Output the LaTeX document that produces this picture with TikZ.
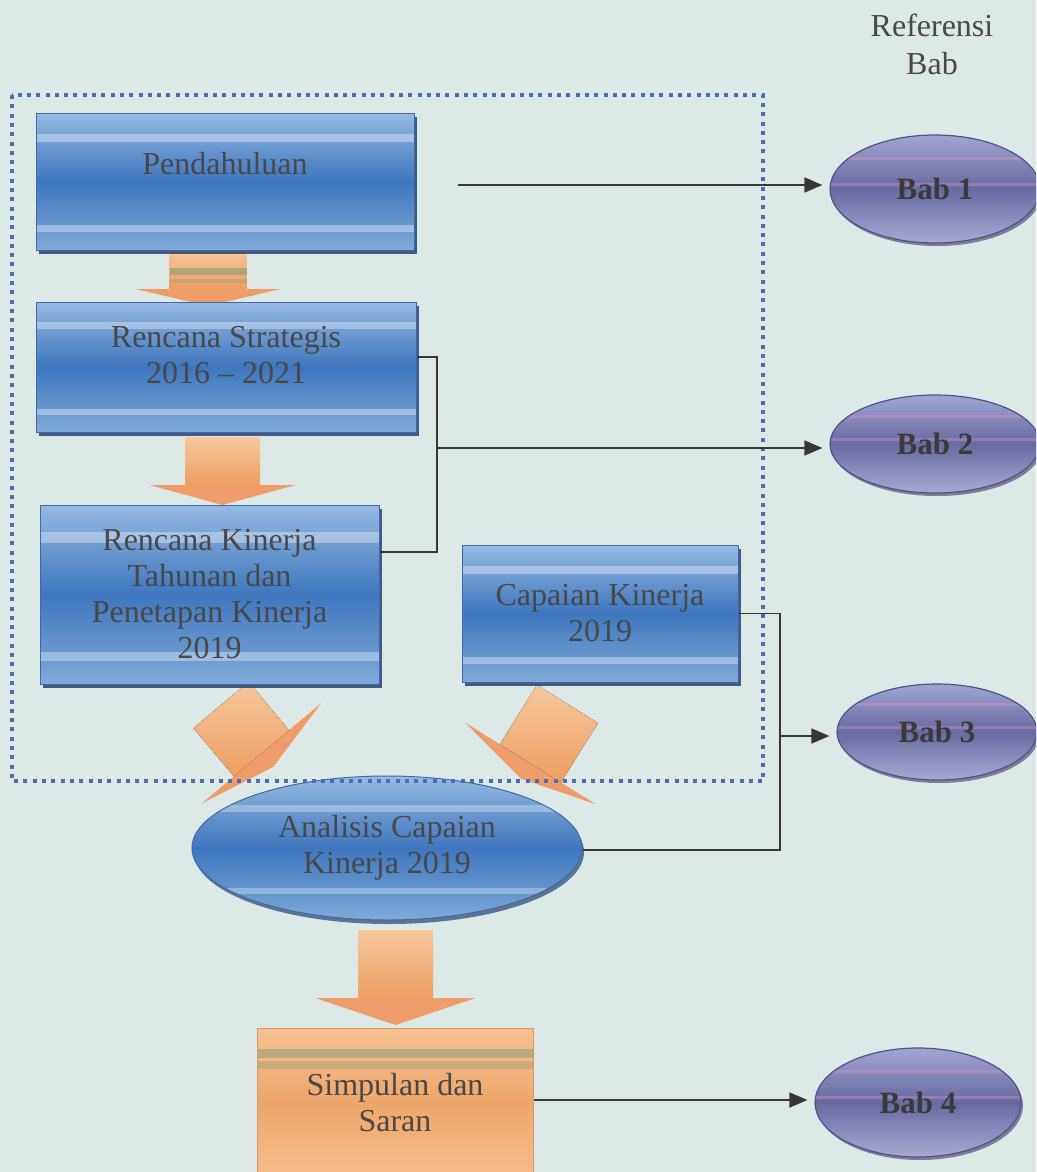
\documentclass[tikz,border=0pt]{standalone}
\usepackage{fontspec}
\setmainfont{Liberation Serif}
\usetikzlibrary{arrows.meta,shapes.geometric,shadows,calc}

\definecolor{bg}{RGB}{221,233,231}
\definecolor{dotblue}{RGB}{78,108,180}
\definecolor{boxtop}{RGB}{150,186,226}
\definecolor{boxmid}{RGB}{62,118,190}
\definecolor{boxbot}{RGB}{128,170,216}
\definecolor{boxedge}{RGB}{62,106,170}
\definecolor{boxshadow}{RGB}{40,66,112}
\definecolor{txtc}{RGB}{72,72,72}
\definecolor{babtop}{RGB}{162,164,210}
\definecolor{babmid}{RGB}{104,106,160}
\definecolor{babbot}{RGB}{168,170,212}
\definecolor{babedge}{RGB}{80,80,140}
\definecolor{babtxt}{RGB}{58,58,58}
\definecolor{ortop}{RGB}{246,200,156}
\definecolor{ormid}{RGB}{238,158,98}
\definecolor{orhead}{RGB}{238,156,106}
\definecolor{orbox}{RGB}{238,166,106}
\definecolor{orboxtop}{RGB}{244,194,146}
\definecolor{orboxbot}{RGB}{246,190,138}
\definecolor{oredge}{RGB}{222,150,92}
\definecolor{greenstripe}{RGB}{150,160,125}
\definecolor{connc}{RGB}{55,55,55}

\newcommand\pstripe[3]{\fill[#3] ($(path picture bounding box.north west)!#1!(path picture bounding box.south west)$) rectangle ($(path picture bounding box.north east)!#2!(path picture bounding box.south east)$);}

% x y rotation shaft-half-width shaft-length head-half-width head-depth
\newcommand\orangearrow[7]{%
  \begin{scope}[shift={(#1,#2)},rotate=#3]
    \fill[orhead] (-#6,#5) -- (#6,#5) -- (0,#5+#7) -- cycle;
    \fill[top color=ortop,bottom color=ormid] (-#4,0) rectangle (#4,#5);
  \end{scope}}

\tikzset{
  txtfont/.style={font=\fontsize{32}{36}\selectfont},
  bluebox/.style={rectangle, draw=boxedge, line width=1pt,
    top color=boxtop, bottom color=boxbot, middle color=boxmid,
    drop shadow={shadow xshift=3pt, shadow yshift=-4pt, fill=boxshadow, opacity=0.85},
    text=txtc, txtfont, align=center, inner sep=0pt,
    path picture={\pstripe{0.15}{0.21}{white,opacity=0.35}\pstripe{0.82}{0.87}{white,opacity=0.35}}},
  blueell/.style={ellipse, draw=boxedge, line width=1pt,
    top color=boxtop, bottom color=boxbot, middle color=boxmid,
    drop shadow={shadow xshift=2pt, shadow yshift=-4pt, fill=boxshadow, opacity=0.7},
    text=txtc, txtfont, align=center, inner sep=0pt,
    path picture={\pstripe{0.2}{0.25}{white,opacity=0.3}\pstripe{0.78}{0.82}{white,opacity=0.3}}},
  orbox/.style={rectangle, draw=oredge, line width=1pt,
    top color=orboxtop, bottom color=orboxbot, middle color=orbox,
    text=txtc, txtfont, align=center, inner sep=0pt,
    path picture={\pstripe{0.14}{0.2}{greenstripe,opacity=0.6}\pstripe{0.22}{0.27}{greenstripe,opacity=0.45}}},
  babell/.style={ellipse, draw=babedge, line width=1.2pt,
    top color=babtop, bottom color=babbot, middle color=babmid,
    drop shadow={shadow xshift=2pt, shadow yshift=-3pt, fill=babedge!70!black, opacity=0.6},
    text=babtxt, font=\bfseries\fontsize{31}{34}\selectfont, inner sep=0pt,
    path picture={\pstripe{0.2}{0.23}{magenta!40!white,opacity=0.3}\pstripe{0.44}{0.47}{magenta!40!white,opacity=0.3}}},
  conn/.style={draw=connc, line width=1.8pt},
  arr/.style={-{Triangle[length=18pt,width=15pt]}, shorten >=7pt},
  dotborder/.style={draw=dotblue, line width=4pt, dash pattern=on 4pt off 5.3pt}
}

\begin{document}
\begin{tikzpicture}[x=1pt,y=-1pt]
\useasboundingbox (0,0) rectangle (1036,1172);
\clip (0,0) rectangle (1036,1172);
\fill[bg] (0,0) rectangle (1036,1172);

% orange arrows
\orangearrow{208}{249}{0}{38.5}{40}{72.5}{17}
\fill[greenstripe,opacity=0.7] (169.5,268) rectangle (246.5,275);
\fill[greenstripe,opacity=0.4] (169.5,279) rectangle (246.5,283);
\orangearrow{222.5}{437}{0}{37.5}{48}{73}{20}
\orangearrow{395.5}{930}{0}{37.5}{68}{80}{27}
\orangearrow{221}{705}{40}{36}{63}{78}{18}
\orangearrow{567.5}{704}{-32}{36}{70}{77}{18}

% title
\node[text=txtc, align=center, font=\fontsize{32}{38}\selectfont] (ref) at (932,44) {Referensi\\Bab};

% main boxes
\node[bluebox, minimum width=378pt, minimum height=137pt] (pd) at (225,181.5) {Pendahuluan\\\mbox{}};
\node[bluebox, minimum width=380pt, minimum height=130pt] (rs) at (226,367) {Rencana Strategis\\2016 – 2021\\[-12pt]\mbox{}};
\node[bluebox, minimum width=339pt, minimum height=179pt] (rk) at (209.5,594.5) {Rencana Kinerja\\Tahunan dan\\Penetapan Kinerja\\2019};
\node[bluebox, minimum width=276pt, minimum height=137pt] (ck) at (600,613.5) {Capaian Kinerja\\2019};
\node[blueell, minimum width=390pt, minimum height=144pt] (an) at (387,848) {Analisis Capaian\\Kinerja 2019};
\node[orbox, minimum width=276pt, minimum height=150pt] (sp) at (395,1103) {Simpulan dan\\Saran};

% chapter ellipses
\node[babell, minimum width=210pt, minimum height=108pt] (bab1) at (935,189) {Bab 1};
\node[babell, minimum width=210pt, minimum height=98pt] (bab2) at (935,444) {Bab 2};
\node[babell, minimum width=200pt, minimum height=96pt] (bab3) at (937,732) {Bab 3};
\node[babell, minimum width=206pt, minimum height=109pt] (bab4) at (918,1102.5) {Bab 4};

% dotted grouping frame
\draw[dotborder] (12,95) rectangle (763,781);

% connectors
\coordinate (p1) at (458,185);
\draw[conn,arr] (p1) -- (p1 -| bab1.west);

\coordinate (j1) at (437,448);
\coordinate (j1b) at (437,552);
\draw[conn] ([yshift=10pt]rs.east) -| (j1b) -- (j1b -| rk.east);
\draw[conn,arr] (j1) -- (j1 -| bab2.west);

\coordinate (j2) at (780,736);
\coordinate (j2b) at (780,850);
\draw[conn] (ck.east) -| (j2b) -- (j2b -| an.east);
\draw[conn,arr] (j2) -- (j2 -| bab3.west);

\draw[conn,arr] ([yshift=3pt]sp.east) -- ([yshift=3pt]sp.east -| bab4.west);
\end{tikzpicture}
\end{document}
